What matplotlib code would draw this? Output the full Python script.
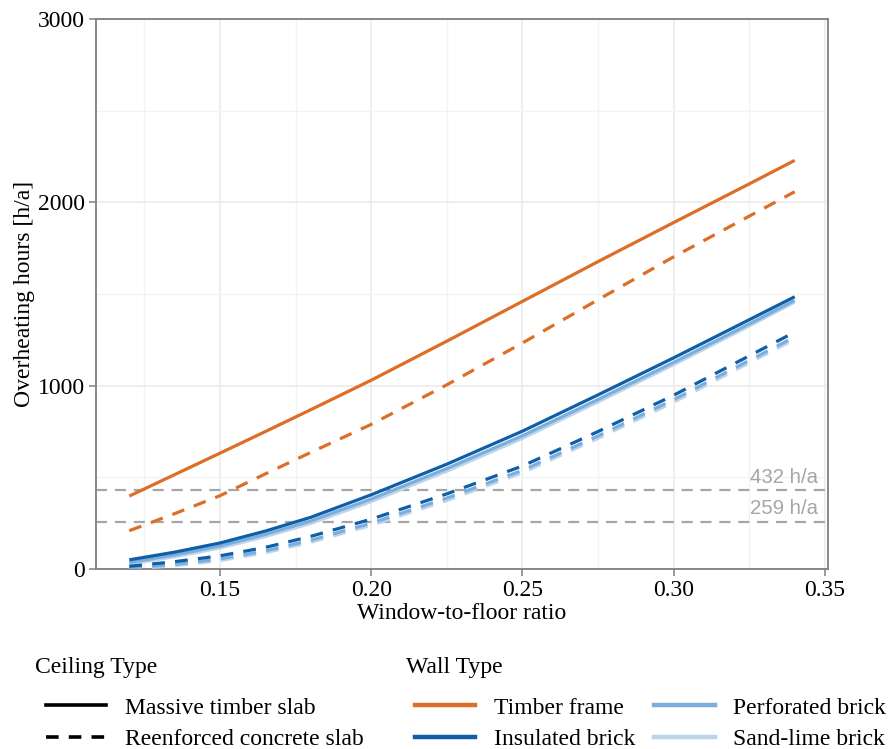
import matplotlib
matplotlib.use("Agg")
import matplotlib.pyplot as plt
from matplotlib.lines import Line2D
import numpy as np

plt.rcParams['font.family'] = ['Liberation Serif', 'DejaVu Serif']

# window-to-floor ratio where the curves were sampled
wfr = [0.12, 0.135, 0.15, 0.165, 0.18, 0.20, 0.225, 0.25, 0.275, 0.30, 0.325, 0.34]

# overheating hours, massive timber slab ceiling
timber_frame_mts = [398, 515, 632, 750, 869, 1030, 1243, 1460, 1677, 1890, 2101, 2229]
insulated_mts = [50, 92, 142, 207, 282, 405, 572, 752, 950, 1152, 1360, 1485]
perforated_mts = [36, 77, 126, 189, 262, 382, 548, 727, 925, 1127, 1337, 1465]
sandlime_mts = [27, 67, 115, 177, 249, 368, 534, 713, 912, 1115, 1326, 1456]

# overheating hours, reinforced concrete slab ceiling
timber_frame_rcs = [209, 302, 400, 519, 636, 789, 1005, 1233, 1469, 1703, 1925, 2058]
insulated_rcs = [15, 40, 72, 118, 178, 272, 410, 562, 750, 948, 1163, 1292]
perforated_rcs = [5, 25, 55, 99, 157, 250, 387, 538, 726, 924, 1138, 1266]
sandlime_rcs = [0, 18, 46, 89, 146, 238, 374, 525, 713, 910, 1125, 1253]

thresholds = [432, 259]

wall_types = ["Timber frame", "Insulated brick", "Perforated brick", "Sand-lime brick"]
wall_colors = ["#DD6E27", "#0F5EA8", "#7AAEDD", "#BCD4EB"]
ceiling_types = ["Massive timber slab", "Reenforced concrete slab"]

series_mts = [timber_frame_mts, insulated_mts, perforated_mts, sandlime_mts]
series_rcs = [timber_frame_rcs, insulated_rcs, perforated_rcs, sandlime_rcs]

W, H = 890, 749
fig = plt.figure(figsize=(W / 100, H / 100), dpi=100)
ax = fig.add_axes([0.1079, 0.2403, 0.8224, 0.7343])

fs = 17
dash = (4, 3.2)

# lightest first so the dark lines sit on top
for i in [3, 2, 0, 1]:
    ax.plot(wfr, series_mts[i], color=wall_colors[i], lw=2.3, solid_capstyle='butt', zorder=3)
    ax.plot(wfr, series_rcs[i], color=wall_colors[i], lw=2.3, linestyle=(0, dash),
            dash_capstyle='butt', zorder=3)

for t in thresholds:
    ax.axhline(t, color="#A6A6A6", lw=1.6, linestyle=(0, (5, 3.5)), zorder=2)
    ax.text(0.3478, t + 18, f"{t} h/a", ha='right', va='bottom', color="#A6A6A6",
            fontsize=14.7, family=['Liberation Sans', 'DejaVu Sans'])

ax.set_xlim(0.109, 0.351)
ax.set_ylim(0, 3000)
ax.set_xticks([0.15, 0.20, 0.25, 0.30, 0.35])
ax.set_xticklabels(["0.15", "0.20", "0.25", "0.30", "0.35"])
ax.set_xticks([0.125, 0.175, 0.225, 0.275, 0.325], minor=True)
ax.set_yticks([0, 1000, 2000, 3000])
ax.set_yticks([500, 1500, 2500], minor=True)
ax.grid(True, which='major', color="#EBEBEB", lw=1.2, zorder=0)
ax.grid(True, which='minor', color="#F3F3F3", lw=1.0, zorder=0)
ax.set_axisbelow(True)

for s in ax.spines.values():
    s.set_color("#7F7F7F")
    s.set_linewidth(1.3)
ax.tick_params(which='major', length=5, width=1.1, color="#7F7F7F", labelsize=fs,
               labelcolor="black", pad=3)
ax.tick_params(which='minor', length=0)

ax.set_xlabel("Window-to-floor ratio", fontsize=fs, labelpad=1)
ax.set_ylabel("Overheating hours [h/a]", fontsize=fs, labelpad=2)

# legend titles sit a little left of the keys
fig.text(35 / W, 1 - 667 / H, "Ceiling Type", fontsize=fs, ha='left', va='center')
fig.text(406 / W, 1 - 667 / H, "Wall Type", fontsize=fs, ha='left', va='center')

ceil_handles = [Line2D([], [], color='black', lw=2.6),
                Line2D([], [], color='black', lw=2.6, linestyle=(0, (3.5, 2.8)))]
fig.legend(ceil_handles, ceiling_types, loc='upper left',
           bbox_to_anchor=(46 / W, 1 - 697 / H), frameon=False, fontsize=fs,
           handlelength=2.55, handletextpad=0.8, labelspacing=0.42,
           borderpad=0, borderaxespad=0)

wall_handles = [Line2D([], [], color=c, lw=3.2) for c in wall_colors]
fig.legend(wall_handles, wall_types, loc='upper left',
           bbox_to_anchor=(415 / W, 1 - 697 / H), frameon=False, fontsize=fs,
           handlelength=2.55, handletextpad=0.8, labelspacing=0.42, ncol=2,
           columnspacing=0.8, borderpad=0, borderaxespad=0)

fig.savefig("out.png", dpi=100)
